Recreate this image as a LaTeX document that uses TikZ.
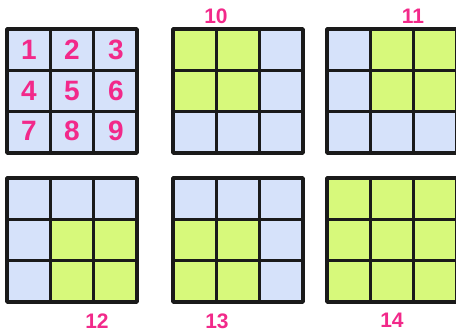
\documentclass[tikz,border=0pt]{standalone}
\usepackage{fontspec}
\setmainfont{Liberation Sans}
\definecolor{cellblue}{HTML}{D6E2FA}
\definecolor{cellgreen}{HTML}{D7F97B}
\definecolor{numpink}{HTML}{F2298A}
\definecolor{gridline}{HTML}{1A1A1A}
\newcommand\gridbase[2]{%
  \fill[cellblue] (#1,#2) rectangle ++(130,124);}
\newcommand\gridgreen[3]{%
  \foreach \cc/\rr in {#3} {\fill[cellgreen] ({#1+(\cc-1)*130/3},{#2+(\rr-1)*124/3}) rectangle ++(130/3,124/3);}}
\newcommand\gridlines[2]{%
  \draw[gridlinestyle] (#1,#2) rectangle ++(130,124);
  \draw[gridlinestyle] ({#1+130/3},#2) -- ++(0,124) ({#1+260/3},#2) -- ++(0,124)
    (#1,{#2+124/3}) -- ++(130,0) (#1,{#2+248/3}) -- ++(130,0);}
\begin{document}
\begin{tikzpicture}[x=1pt,y=-1pt,
  gridlinestyle/.style={draw=gridline,line width=3.6pt,line join=round},
  bignum/.style={text=numpink,font=\bfseries\fontsize{28}{28}\selectfont,inner sep=0pt,anchor=center},
  lbl/.style={text=numpink,font=\bfseries\fontsize{21}{21}\selectfont,inner sep=0pt,anchor=center}]
\useasboundingbox (0,0) rectangle (456,335);
% grid 1
\gridbase{7}{29}
\gridlines{7}{29}
% grid 10
\gridbase{173}{29}
\gridgreen{173}{29}{1/1,2/1,1/2,2/2}
\gridlines{173}{29}
% grid 11
\gridbase{327}{29}
\gridgreen{327}{29}{2/1,3/1,2/2,3/2}
\gridlines{327}{29}
% grid 12
\gridbase{7}{178}
\gridgreen{7}{178}{2/2,3/2,2/3,3/3}
\gridlines{7}{178}
% grid 13
\gridbase{173}{178}
\gridgreen{173}{178}{1/2,2/2,1/3,2/3}
\gridlines{173}{178}
% grid 14
\gridbase{327}{178}
\gridgreen{327}{178}{1/1,2/1,3/1,1/2,2/2,3/2,1/3,2/3,3/3}
\gridlines{327}{178}
% numbers
\node[bignum] (n1) at (29,50) {1};
\node[bignum] (n2) at (72,50) {2};
\node[bignum] (n3) at (116,50) {3};
\node[bignum] (n4) at (29,91) {4};
\node[bignum] (n5) at (72,91) {5};
\node[bignum] (n6) at (116,91) {6};
\node[bignum] (n7) at (29,131) {7};
\node[bignum] (n8) at (72,131) {8};
\node[bignum] (n9) at (116,131) {9};
% labels
\node[lbl] (l10) at (216,16) {10};
\node[lbl] (l11) at (413,16) {11};
\node[lbl] (l12) at (97,321) {12};
\node[lbl] (l13) at (217,321) {13};
\node[lbl] (l14) at (392,320) {14};
\end{tikzpicture}
\end{document}
